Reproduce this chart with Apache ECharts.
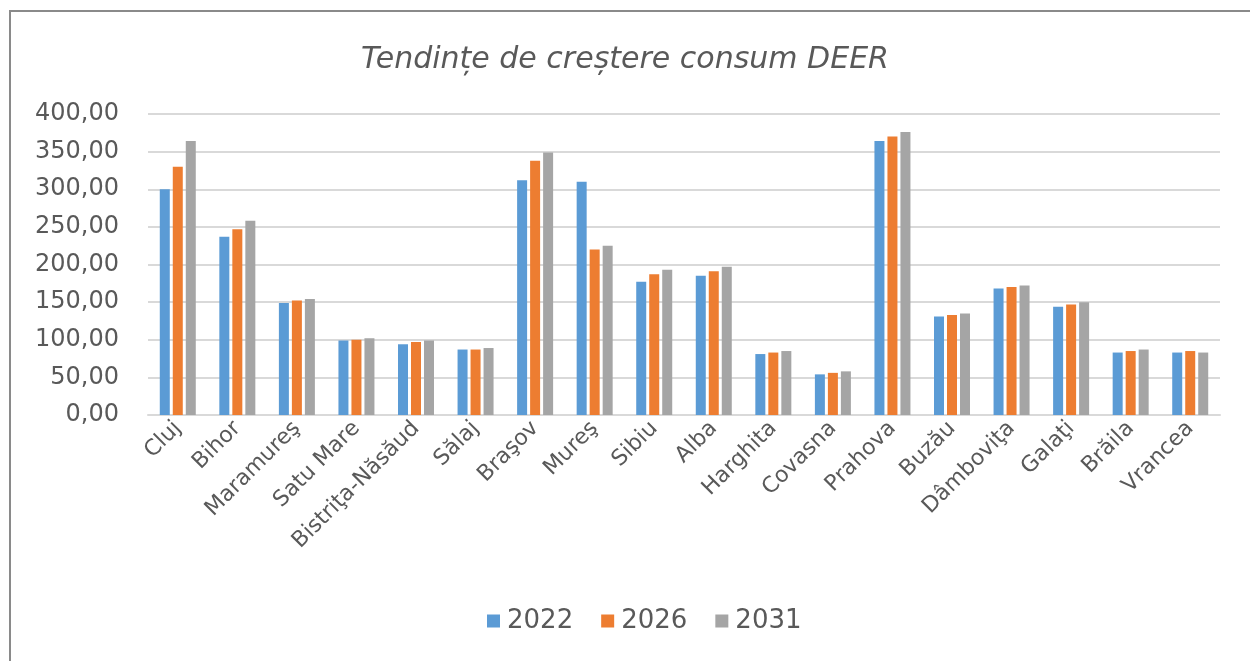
<!DOCTYPE html>
<html>
<head>
<meta charset="utf-8">
<script src="https://cdn.jsdelivr.net/npm/echarts@6/dist/echarts.min.js"></script>
<style>
  html, body { margin: 0; padding: 0; background: #fff; overflow: hidden; }
  #chart { width: 1250px; height: 661px; }
</style>
</head>
<body>
<div id="chart"></div>
<script>
  // judete
  var categories = ['Cluj', 'Bihor', 'Maramureş', 'Satu Mare', 'Bistriţa-Năsăud', 'Sălaj', 'Braşov', 'Mureş',
    'Sibiu', 'Alba', 'Harghita', 'Covasna', 'Prahova', 'Buzău', 'Dâmboviţa', 'Galaţi', 'Brăila', 'Vrancea'];
  var years = ['2022', '2026', '2031'];
  var v2022 = [300, 237, 149, 99, 94, 87, 312, 310, 177, 185, 81, 54, 364, 131, 168, 144, 83, 83];
  var v2026 = [330, 247, 152, 100, 97, 87, 338, 220, 187, 191, 83, 56, 370, 133, 170, 147, 85, 85];
  var v2031 = [364, 258, 154, 102, 99, 89, 349, 225, 193, 197, 85, 58, 376, 135, 172, 150, 87, 83];
  var yTicks = [0, 50, 100, 150, 200, 250, 300, 350, 400];

  var colors = ['#5B9BD5', '#ED7D31', '#A5A5A5'];
  var textColor = '#595959';
  var font = 'DejaVu Sans';

  var myChart = echarts.init(document.getElementById('chart'));

  function barSeries(name, data, idx) {
    return {
      name: name,
      type: 'bar',
      data: data,
      barWidth: 10,
      barGap: '30%',
      itemStyle: { color: colors[idx] }
    };
  }

  var option = {
    animation: false,
    title: {
      text: 'Tendințe de creștere consum DEER',
      left: 'center',
      top: 40,
      textStyle: {
        color: textColor,
        fontFamily: font,
        fontStyle: 'italic',
        fontWeight: 'normal',
        fontSize: 30
      }
    },
    legend: {
      data: years,
      bottom: 22,
      left: 482,
      icon: 'rect',
      itemWidth: 13,
      itemHeight: 13,
      itemGap: 28,
      textStyle: { color: textColor, fontFamily: font, fontSize: 26, padding: [0, 0, 0, 2] }
    },
    grid: {
      left: 148,
      right: 30,
      top: 114,
      bottom: 246,
      containLabel: false
    },
    xAxis: {
      type: 'category',
      data: categories,
      axisLine: { lineStyle: { color: '#d9d9d9', width: 2 } },
      axisTick: { show: false },
      axisLabel: {
        interval: 0,
        rotate: 45,
        margin: 10,
        color: textColor,
        fontFamily: font,
        fontSize: 22
      }
    },
    yAxis: {
      type: 'value',
      min: yTicks[0],
      max: yTicks[yTicks.length - 1],
      interval: 50,
      axisLine: { show: false },
      axisTick: { show: false },
      splitLine: { lineStyle: { color: '#d9d9d9', width: 2 } },
      axisLabel: {
        margin: 29,
        color: textColor,
        fontFamily: font,
        fontSize: 24,
        formatter: function (v) { return v.toFixed(2).replace('.', ','); }
      }
    },
    graphic: [{
      type: 'rect',
      shape: { x: 10, y: 11, width: 1260, height: 680 },
      style: { fill: 'none', stroke: '#8a8a8a', lineWidth: 2 },
      silent: true
    }],
    series: [
      barSeries(years[0], v2022, 0),
      barSeries(years[1], v2026, 1),
      barSeries(years[2], v2031, 2)
    ]
  };

  myChart.setOption(option);
</script>
</body>
</html>
